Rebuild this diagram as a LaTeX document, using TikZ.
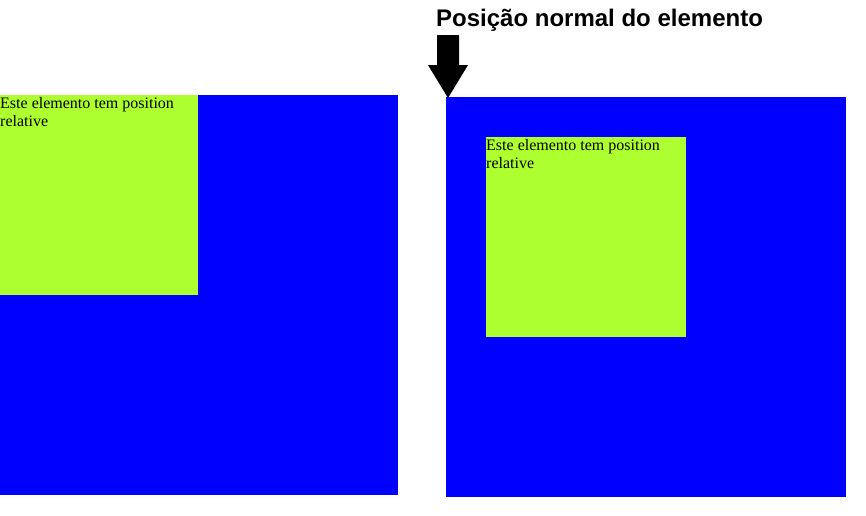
\documentclass[tikz,border=0pt]{standalone}
\usepackage{fontspec}
\setmainfont{Liberation Serif}
\newfontfamily\titlefont{Liberation Sans}
\definecolor{boxblue}{HTML}{0000FF}
\definecolor{boxgreen}{HTML}{ADFF2F}
\begin{document}
\begin{tikzpicture}[x=1pt,y=-1pt,
  outerbox/.style={fill=boxblue, draw=none},
  innerbox/.style={fill=boxgreen, draw=none},
  boxtext/.style={anchor=base west, inner sep=0pt, align=left, font=\fontsize{16}{18.4}\selectfont, text=black},
]
\useasboundingbox (0,0) rectangle (866,515);
% left
\path[outerbox] (0,95) rectangle (398,495);
\path[innerbox] (0,95) rectangle (198,295);
\node[boxtext] (t1) at (0,126.9) {Este elemento tem position\\relative};
% right
\path[outerbox] (446,97) rectangle (846,497);
\path[innerbox] (486,137) rectangle (686,337);
\node[boxtext] (t2) at (486,168.9) {Este elemento tem position\\relative};
% title
\node[anchor=base west, inner sep=0pt, font=\titlefont\bfseries\fontsize{24}{28}\selectfont] (title) at (436,26) {Posição normal do elemento};
% arrow
\fill[black] (437,35) -- (459,35) -- (459,65) -- (468,65) -- (448,98) -- (428,65) -- (437,65) -- cycle;
\end{tikzpicture}
\end{document}
